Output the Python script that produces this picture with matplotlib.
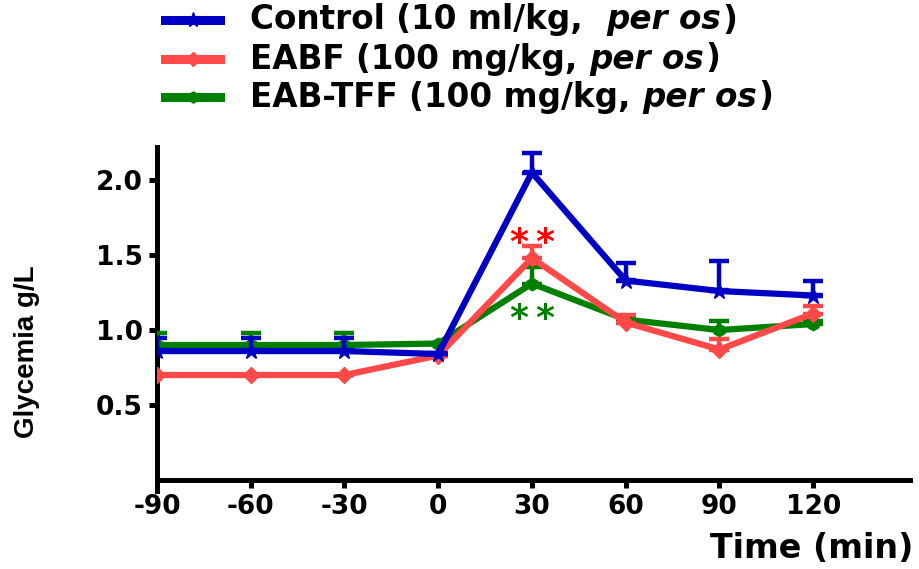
import matplotlib
matplotlib.use("Agg")
import matplotlib.pyplot as plt
from matplotlib.lines import Line2D
from matplotlib import font_manager
from matplotlib import transforms as mtransforms
import numpy as np

# ---------------- data ----------------
time_min = [-90, -60, -30, 0, 30, 60, 90, 120]
x_ticks = [-90, -60, -30, 0, 30, 60, 90, 120]
y_ticks = [0.5, 1.0, 1.5, 2.0]
y_tick_labels = ["0.5", "1.0", "1.5", "2.0"]

control_mean = [0.86, 0.86, 0.86, 0.84, 2.05, 1.33, 1.26, 1.23]
control_err = [0.09, 0.09, 0.09, 0.0, 0.13, 0.12, 0.20, 0.10]
eabf_mean = [0.70, 0.70, 0.70, 0.83, 1.48, 1.05, 0.87, 1.11]
eabf_err = [0.0, 0.0, 0.0, 0.0, 0.08, 0.05, 0.07, 0.05]
eabtff_mean = [0.90, 0.90, 0.90, 0.91, 1.31, 1.07, 1.00, 1.04]
eabtff_err = [0.08, 0.08, 0.08, 0.0, 0.11, 0.02, 0.06, 0.02]

legend_normal = ["Control (10 ml/kg,", "EABF (100 mg/kg,", "EAB-TFF (100 mg/kg,"]
legend_gap_spaces = [2, 1, 1]
legend_italic = "per os"

sig_time = 30
sig_red_y = 1.63
sig_green_y = 1.12

BLUE = "#0000C4"
RED = "#FF4848"
GREEN = "#008000"

FONT = "DejaVu Sans"
installed = {f.name for f in font_manager.fontManager.ttflist}
NARROW = "Liberation Sans Narrow" if "Liberation Sans Narrow" in installed else "Liberation Sans"

# ---------------- figure ----------------
W, H = 919, 569
fig = plt.figure(figsize=(W / 100, H / 100), dpi=100)
ax_left, ax_right = 157 / W, 910 / W
ax_bottom_px, ax_top_px = 491, 147
ax = fig.add_axes([ax_left, 1 - ax_bottom_px / H, ax_right - ax_left,
                   (ax_bottom_px - ax_top_px) / H])

ax.set_xlim(-90, 151)
ax.set_ylim(-0.073, 2.22)

series = [
    (eabtff_mean, eabtff_err, GREEN, "h", 9, 3),
    (eabf_mean, eabf_err, RED, "D", 8, 4),
    (control_mean, control_err, BLUE, "*", 13, 5),
]
for mean, err, col, mk, ms, z in series:
    lower = np.zeros(len(err))
    ax.errorbar(time_min, mean, yerr=[lower, err], color=col, lw=4.5,
                marker=mk, markersize=ms, capsize=7, capthick=3.2,
                elinewidth=3.2, zorder=z)

# significance marks "**" (two asterisks, spaced as in the original)
star_tr = mtransforms.offset_copy(ax.transData, fig=fig, x=0, y=-7, units="dots")
for yv, col in [(sig_red_y, "#FF0000"), (sig_green_y, GREEN)]:
    for dx in (-4.2, 4.2):
        ax.text(sig_time + dx, yv, "*", color=col, ha="center", va="center",
                fontsize=26, fontweight="bold", family=FONT, transform=star_tr)

for s in ["top", "right"]:
    ax.spines[s].set_visible(False)
ax.spines["left"].set_linewidth(3.6)
ax.spines["bottom"].set_linewidth(3.6)
ax.spines["bottom"].set_position(("data", 0))
ax.spines["left"].set_bounds(-0.073, 2.22)

ax.set_xticks(x_ticks)
ax.set_xticklabels([str(t) for t in x_ticks])
ax.set_yticks(y_ticks)
ax.set_yticklabels(y_tick_labels)
ax.tick_params(axis="both", direction="out", length=6, width=3.6, pad=4)
for lab in ax.get_xticklabels() + ax.get_yticklabels():
    lab.set_fontsize(19)
    lab.set_fontweight("bold")
    lab.set_family(FONT)

fig.text(27 / W, 1 - 352 / H, "Glycemia g/L", rotation=90, ha="center",
         va="center", fontsize=20, fontweight="bold", family=NARROW)
fig.text(913 / W, 1 - 548 / H, "Time (min)", ha="right", va="center",
         fontsize=24, fontweight="bold", family=FONT)

# ---------------- legend (manual, to mix italic) ----------------
renderer = fig.canvas.get_renderer()
rows_y = [20, 59, 97]
handles = [(BLUE, "*", 11), (RED, "D", 7), (GREEN, "h", 8)]
leg_fs = 23.5
for i, (yy, (col, mk, ms)) in enumerate(zip(rows_y, handles)):
    yf = 1 - yy / H
    fig.add_artist(Line2D([165 / W, 220 / W], [yf, yf], color=col, lw=6.5,
                          transform=fig.transFigure))
    fig.add_artist(Line2D([192.5 / W], [yf], color=col, marker=mk,
                          markersize=ms, transform=fig.transFigure))
    t1 = fig.text(250 / W, yf, legend_normal[i], ha="left", va="center",
                  fontsize=leg_fs, fontweight="bold", family=FONT)
    bb = t1.get_window_extent(renderer)
    gap = 12 * legend_gap_spaces[i]
    t2 = fig.text((bb.x1 + gap) / W, yf, legend_italic, ha="left",
                  va="center", fontsize=leg_fs, fontweight="bold",
                  style="italic", family=FONT)
    bb2 = t2.get_window_extent(renderer)
    fig.text((bb2.x1 + 1) / W, yf, ")", ha="left", va="center",
             fontsize=leg_fs, fontweight="bold", family=FONT)

fig.savefig("out.png", dpi=100)
